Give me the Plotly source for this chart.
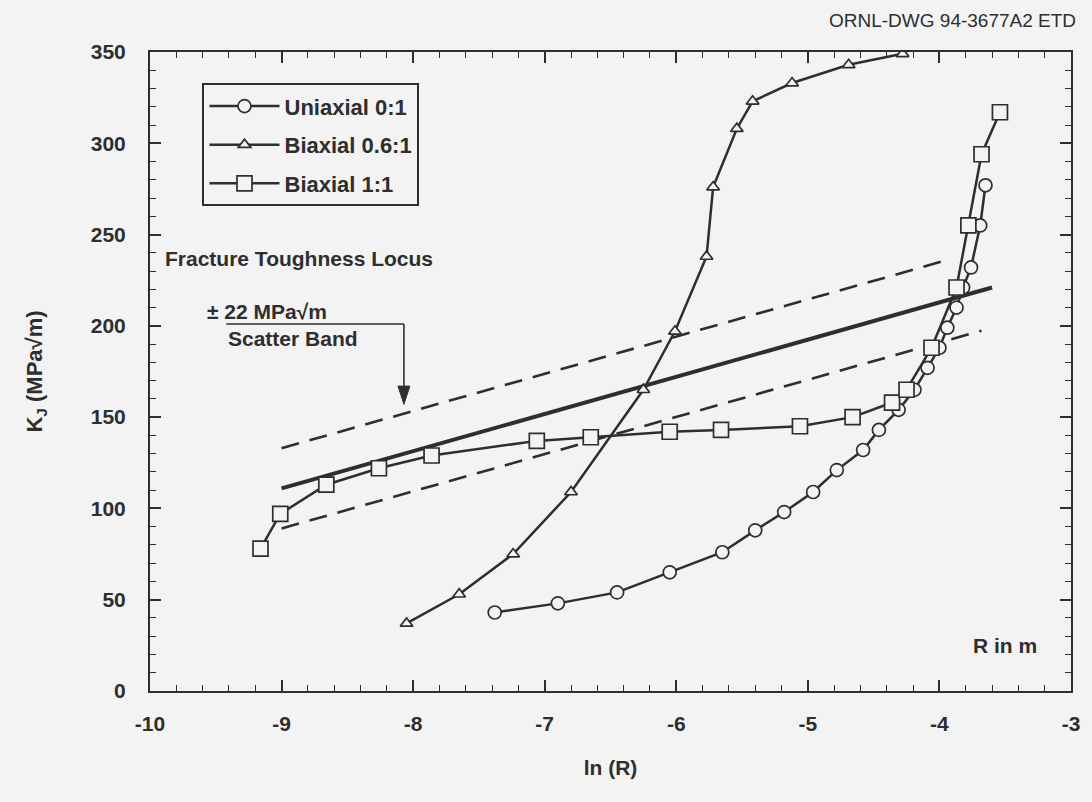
import plotly.graph_objects as go

# ---- data: ln(R) vs K_J ----
uni_x = [-7.38, -6.90, -6.45, -6.05, -5.65, -5.40, -5.18, -4.96, -4.78, -4.58, -4.46,
         -4.31, -4.19, -4.09, -4.00, -3.94, -3.87, -3.82, -3.76, -3.69, -3.65]
uni_k = [43, 48, 54, 65, 76, 88, 98, 109, 121, 132, 143,
         154, 165, 177, 188, 199, 210, 221, 232, 255, 277]

bi06_x = [-8.05, -7.65, -7.24, -6.80, -6.25, -6.01, -5.77, -5.72, -5.54, -5.42, -5.12, -4.69, -4.28]
bi06_k = [37, 53, 75, 109, 165, 197, 238, 276, 308, 323, 333, 343, 349]

bi11_x = [-9.16, -9.01, -8.66, -8.26, -7.86, -7.06, -6.65, -6.05, -5.66, -5.06, -4.66,
          -4.36, -4.25, -4.06, -3.87, -3.78, -3.68, -3.54]
bi11_k = [78, 97, 113, 122, 129, 137, 139, 142, 143, 145, 150,
          158, 165, 188, 221, 255, 294, 317]

# fracture toughness locus and its scatter band
locus_x = [-9.0, -3.6]
locus_k = [111, 221]
band = 22
upper_x = [-9.0, -3.92]
lower_x = [-9.0, -3.68]

x_tick_vals = [-10, -9, -8, -7, -6, -5, -4, -3]
x_tick_text = ["-10", "-9", "-8", "-7", "-6", "-5", "-4", "-3"]
y_tick_vals = [0, 50, 100, 150, 200, 250, 300, 350]

INK = "#2e2e2e"
BG = "#f3f3f3"
FONT = "Liberation Sans, Arial, sans-serif"
FS = 21


def locus(x):
    slope = (locus_k[1] - locus_k[0]) / (locus_x[1] - locus_x[0])
    return locus_k[0] + slope * (x - locus_x[0])


fig = go.Figure()

# scatter band (dashed) and locus (solid)
dash = dict(color=INK, width=2.6, dash="18px,11px")
fig.add_trace(go.Scatter(x=upper_x, y=[locus(v) + band for v in upper_x], mode="lines",
                         line=dash, showlegend=False, hoverinfo="skip"))
fig.add_trace(go.Scatter(x=lower_x, y=[locus(v) - band for v in lower_x], mode="lines",
                         line=dash, showlegend=False, hoverinfo="skip"))
fig.add_trace(go.Scatter(x=locus_x, y=locus_k, mode="lines",
                         line=dict(color=INK, width=4), showlegend=False, hoverinfo="skip"))

series = [
    ("Uniaxial 0:1", uni_x, uni_k, "circle", 13),
    ("Biaxial 0.6:1", bi06_x, bi06_k, "triangle-up", 11),
    ("Biaxial 1:1", bi11_x, bi11_k, "square", 15),
]
for i, (name, xs, ks, sym, size) in enumerate(series):
    fig.add_trace(go.Scatter(
        x=xs, y=ks, mode="lines+markers", name=f"<b>{name}</b>", legendgroup=str(i),
        line=dict(color=INK, width=2.5),
        marker=dict(symbol=sym, size=size, color=BG, line=dict(color=INK, width=1.7)),
    ))

# text labels
txt = dict(family=FONT, size=FS, color=INK)
fig.add_annotation(x=-9.90, y=237, text="<b>Fracture Toughness Locus</b>", showarrow=False,
                   xanchor="left", yanchor="middle", font=txt)
fig.add_annotation(x=-9.58, y=208, text="<b>± 22 MPa√m</b>", showarrow=False,
                   xanchor="left", yanchor="middle", font=txt)
fig.add_annotation(x=-9.42, y=193, text="<b>Scatter Band</b>", showarrow=False,
                   xanchor="left", yanchor="middle", font=txt)
fig.add_annotation(x=-3.245, y=25, text="<b>R in m</b>", showarrow=False,
                   xanchor="right", yanchor="middle", font=txt)
fig.add_annotation(x=1.0075, y=1.050, xref="paper", yref="paper", text="ORNL-DWG 94-3677A2 ETD",
                   showarrow=False, xanchor="right", yanchor="middle",
                   font=dict(family=FONT, size=19, color=INK))

# leader from the scatter-band label down to the upper band line
fig.add_shape(type="line", x0=-9.42, x1=-8.07, y0=201, y1=201, line=dict(color=INK, width=1.6))
fig.add_shape(type="line", x0=-8.07, x1=-8.07, y0=201, y1=164, line=dict(color=INK, width=1.6))
fig.add_shape(type="path", path="M -8.115 167 L -8.025 167 L -8.07 157 Z",
              fillcolor=INK, line=dict(color=INK, width=1))

axis_common = dict(showline=True, linewidth=2, linecolor=INK, mirror="ticks", ticks="inside",
                   tickcolor=INK, tickwidth=1.6, ticklen=11, showgrid=False, zeroline=False,
                   tickfont=dict(family=FONT, size=FS, color=INK))

fig.update_layout(
    width=1092, height=802,
    margin=dict(l=150, r=17, t=52, b=111),
    paper_bgcolor=BG, plot_bgcolor=BG,
    font=dict(family=FONT, color=INK),
    xaxis=dict(range=[-10, -3], tickvals=x_tick_vals, ticktext=[f"<b>{t}</b>" for t in x_tick_text],
               minor=dict(dtick=0.2, ticks="inside", ticklen=6, tickcolor=INK, tickwidth=1.3),
               ticklabelstandoff=13,
               title=dict(text="<b>ln (R)</b>", font=dict(family=FONT, size=FS, color=INK), standoff=26),
               **axis_common),
    yaxis=dict(range=[0, 350], tickvals=y_tick_vals, ticktext=[f"<b>{v}</b>" for v in y_tick_vals],
               minor=dict(dtick=10, ticks="inside", ticklen=6, tickcolor=INK, tickwidth=1.3),
               ticklabelstandoff=18,
               title=dict(text="<b>K<sub>J</sub> (MPa√m)</b>", font=dict(family=FONT, size=22, color=INK),
                          standoff=42),
               **axis_common),
    legend=dict(x=0.057, y=0.951, xanchor="left", yanchor="top", bgcolor=BG,
                bordercolor=INK, borderwidth=2, tracegroupgap=7, itemwidth=70,
                font=dict(family=FONT, size=22, color=INK)),
    showlegend=True,
)

fig.write_html("out.html")
